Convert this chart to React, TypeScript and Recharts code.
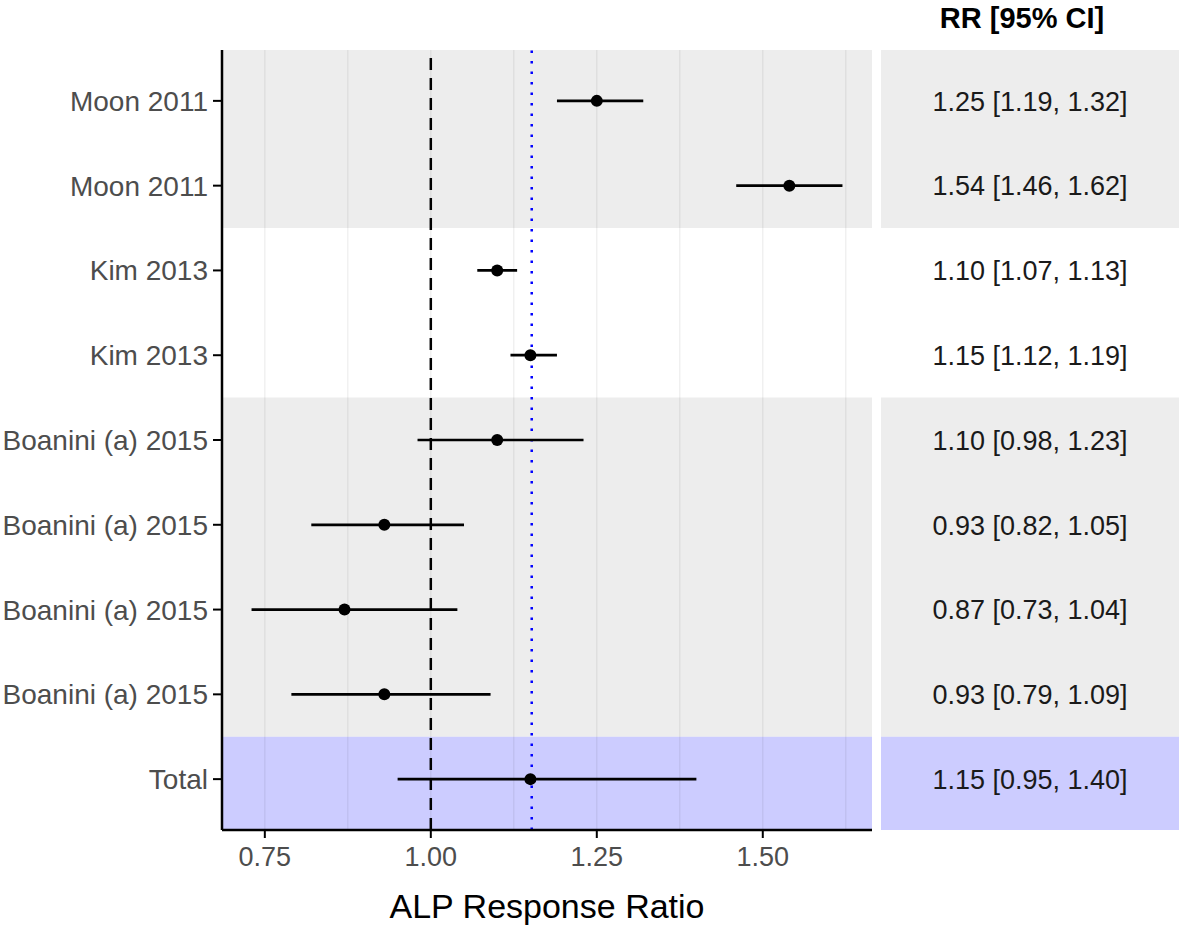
import { ScatterChart, Scatter, XAxis, YAxis, ReferenceArea, ReferenceLine, ErrorBar } from 'recharts'

const studies = [
  'Moon 2011', 'Moon 2011', 'Kim 2013', 'Kim 2013',
  'Boanini (a) 2015', 'Boanini (a) 2015', 'Boanini (a) 2015', 'Boanini (a) 2015', 'Total',
]
const rr    = [1.25, 1.54, 1.10, 1.15, 1.10, 0.93, 0.87, 0.93, 1.15]
const lower = [1.19, 1.46, 1.07, 1.12, 0.98, 0.82, 0.73, 0.79, 0.95]
const upper = [1.32, 1.62, 1.13, 1.19, 1.23, 1.05, 1.04, 1.09, 1.40]
const pooled = 1.152
const xTicks = [0.75, 1.0, 1.25, 1.5]
const minorBreaks = [0.875, 1.125, 1.375, 1.625]
// shaded row groups: first row, last row, fill
const bands: [number, number, string][] = [[1, 2, '#ededed'], [5, 8, '#ededed'], [9, 9, '#ccccff']]

const FONT = '"Liberation Sans", Arial, sans-serif'
const n = studies.length
const yDomain: [number, number] = [0.4, n + 0.6]
const xDomain: [number, number] = [0.6855, 1.6645]

const rows = studies.map((s, i) => ({
  row: i + 1,
  study: s,
  rr: rr[i],
  err: [rr[i] - lower[i], upper[i] - rr[i]],
  mid: 0.5,
  label: `${rr[i].toFixed(2)} [${lower[i].toFixed(2)}, ${upper[i].toFixed(2)}]`,
}))

const bandY1 = (first: number) => (first === 1 ? yDomain[0] : first - 0.5)
const bandY2 = (last: number) => (last === n ? yDomain[1] : last + 0.5)

function Dot(props: any) {
  return <circle cx={props.cx} cy={props.cy} r={6} fill="#000" />
}

function CiText(props: any) {
  return (
    <text x={props.cx} y={props.cy} dy="0.36em" textAnchor="middle"
      fontFamily={FONT} fontSize={27} fill="#1a1a1a">
      {props.payload.label}
    </text>
  )
}

export default function App() {
  return (
    <div style={{ position: 'absolute', left: 0, top: 0, width: 1181, height: 928, background: '#fff' }}>
      <div style={{ position: 'absolute', left: 0, top: 0 }}>
        <ScatterChart width={880} height={928} margin={{ top: 50, right: 8, bottom: 0, left: 10 }}>
          {bands.map(([a, b, fill], i) => (
            <ReferenceArea key={'b' + i} y1={bandY1(a)} y2={bandY2(b)} fill={fill} fillOpacity={1} stroke="none" />
          ))}
          {[...xTicks, ...minorBreaks].map(v => (
            <ReferenceLine key={'g' + v} x={v} stroke="rgba(0,0,0,0.075)" strokeWidth={1.2} />
          ))}
          <ReferenceLine x={1} stroke="#000" strokeWidth={2.5} strokeDasharray="12 8" />
          <ReferenceLine x={pooled} stroke="#0000ff" strokeWidth={2.5} strokeDasharray="2.5 8" />
          <XAxis
            type="number" dataKey="rr" domain={xDomain} ticks={xTicks} allowDataOverflow
            tickFormatter={(v: number) => v.toFixed(2)}
            height={98} tickSize={8} tickMargin={9}
            axisLine={{ stroke: '#000', strokeWidth: 2.5 }}
            tickLine={{ stroke: '#000', strokeWidth: 2 }}
            tick={{ fill: '#4d4d4d', fontSize: 27, fontFamily: FONT }}
            label={{ value: 'ALP Response Ratio', position: 'insideBottom', offset: 10, fill: '#000', fontSize: 34, fontFamily: FONT }}
          />
          <YAxis
            type="number" dataKey="row" domain={yDomain} reversed allowDataOverflow
            ticks={rows.map(r => r.row)} interval={0}
            tickFormatter={(v: number) => studies[v - 1] ?? ''}
            width={212} tickSize={9} tickMargin={5}
            axisLine={{ stroke: '#000', strokeWidth: 2.5 }}
            tickLine={{ stroke: '#000', strokeWidth: 2 }}
            tick={{ fill: '#4d4d4d', fontSize: 28, fontFamily: FONT }}
          />
          <Scatter data={rows} dataKey="rr" shape={<Dot />} isAnimationActive={false}>
            <ErrorBar dataKey="err" direction="x" width={0} stroke="#000" strokeWidth={2.7} isAnimationActive={false} />
          </Scatter>
        </ScatterChart>
      </div>

      <div style={{ position: 'absolute', left: 881, top: 0 }}>
        <ScatterChart width={298} height={928} margin={{ top: 50, right: 0, bottom: 98, left: 0 }}>
          {bands.map(([a, b, fill], i) => (
            <ReferenceArea key={'rb' + i} y1={bandY1(a)} y2={bandY2(b)} fill={fill} fillOpacity={1} stroke="none" />
          ))}
          <XAxis type="number" dataKey="mid" domain={[0, 1]} hide />
          <YAxis type="number" dataKey="row" domain={yDomain} reversed hide />
          <Scatter data={rows} dataKey="mid" shape={<CiText />} isAnimationActive={false} />
        </ScatterChart>
      </div>

      <svg style={{ position: 'absolute', left: 0, top: 0 }} width={1181} height={50}>
        <text x={1022} y={28} textAnchor="middle" fontFamily={FONT} fontSize={29} fontWeight="bold" fill="#000">
          RR [95% CI]
        </text>
      </svg>
    </div>
  )
}
